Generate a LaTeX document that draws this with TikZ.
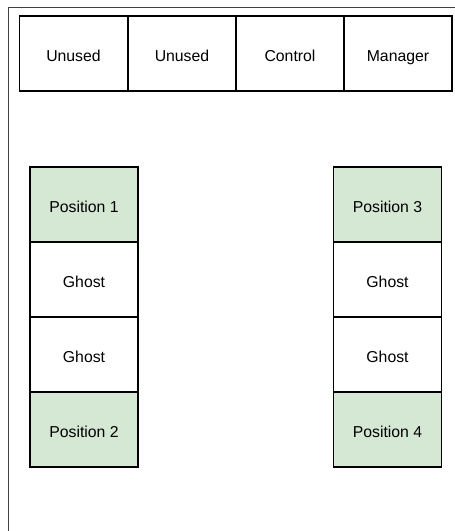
\documentclass[tikz,border=0pt]{standalone}
\usepackage{fontspec}
\setmainfont{Liberation Sans}
\usepackage{xcolor}
\usepackage{tikz}

\definecolor{slotgreen}{HTML}{D5E8D4}

\begin{document}
\begin{tikzpicture}[x=1pt, y=-1pt,
    slot/.style={draw, rectangle, line width=1.3pt, outer sep=0pt,
        minimum width=108pt, minimum height=75pt,
        text height=15pt, text depth=0pt,
        font=\fontsize{15.8}{18}\selectfont},
    posslot/.style={slot, fill=slotgreen}]
        \useasboundingbox (0,0) rectangle (455,531);

        % Frame (cut off at the right and bottom)
        \coordinate (frametop) at (456,7.5);
        \coordinate (framecorner) at (8.5,7.5);
        \coordinate (framebottom) at (8.5,532);
        \draw[line width=1.3pt, black!75] (framebottom) -- (framecorner) -- (frametop);

        % Top row
        \node[slot] (unuseda) at (73.5,53.5) {Unused};
        \node[slot] (unusedb) at (182,53.5) {Unused};
        \node[slot] (control) at (290,53.5) {Control};
        \node[slot] (manager) at (398,53.5) {Manager};

        % Left column
        \node[posslot] (posa)   at (84,204.5) {Position 1};
        \node[slot]    (ghosta) at (84,279.5) {Ghost};
        \node[slot]    (ghostb) at (84,354.5) {Ghost};
        \node[posslot] (posb)   at (84,429.5) {Position 2};

        % Right column
        \node[posslot] (posc)   at (387.5,204.5) {Position 3};
        \node[slot]    (ghostc) at (387.5,279.5) {Ghost};
        \node[slot]    (ghostd) at (387.5,354.5) {Ghost};
        \node[posslot] (posd)   at (387.5,429.5) {Position 4};
    \end{tikzpicture}
\end{document}
